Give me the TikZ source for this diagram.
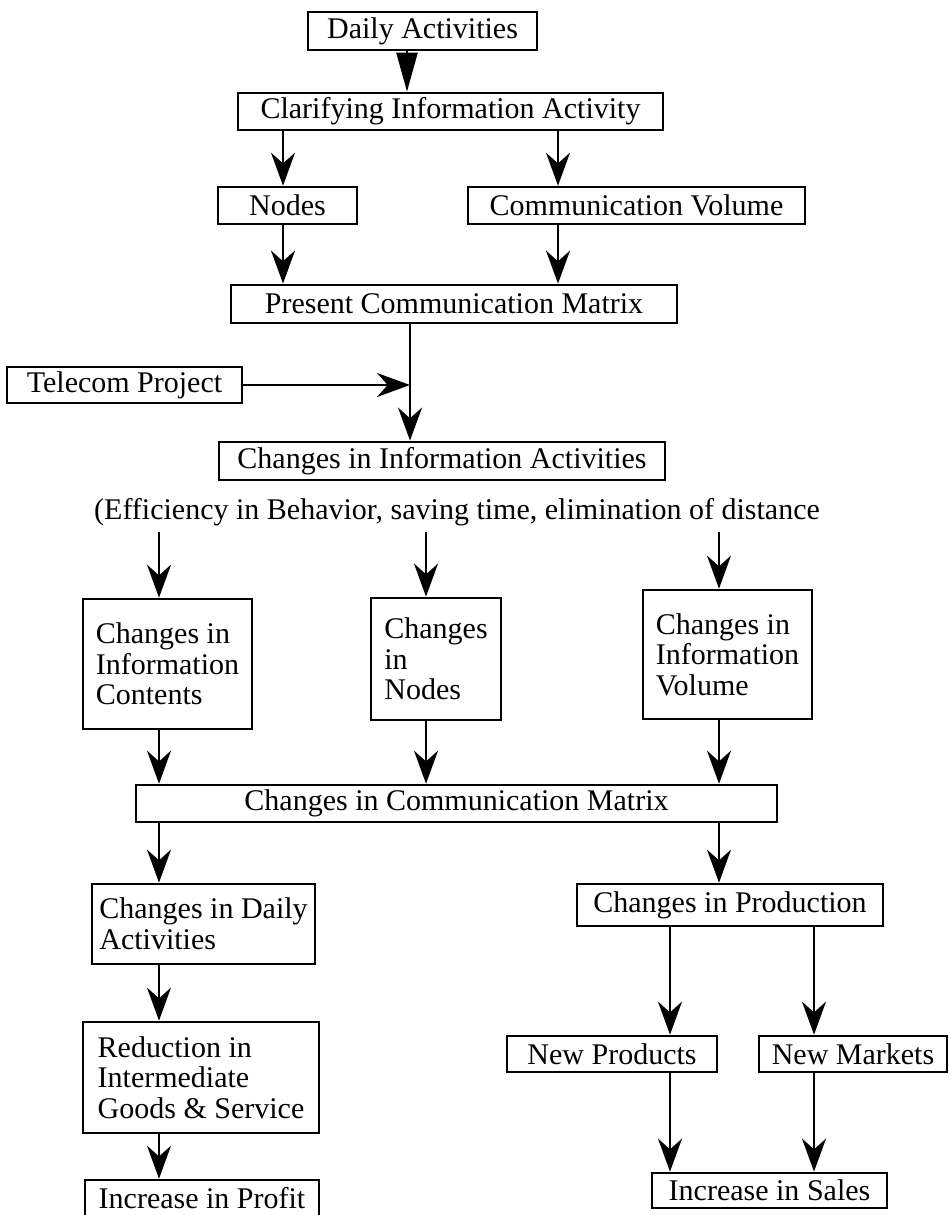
\documentclass[tikz,border=0pt]{standalone}
\usepackage{fontspec}
\setmainfont{Liberation Serif}
\usetikzlibrary{arrows.meta}
\begin{document}
\begin{tikzpicture}[x=0.3333pt, y=-0.3333pt,
	box/.style={draw, line width=0.9pt, inner sep=0pt, font=\fontsize{10}{10.2}\selectfont},
	tbox/.style={box, align=left},
	arr/.style={line width=0.8pt, -{Stealth[length=11pt,width=8pt]}}]
	\useasboundingbox (0,0) rectangle (948,1215);
	% columns of the arrows
	\coordinate (cA) at (407,0);
	\coordinate (cB) at (283,0);
	\coordinate (cC) at (558,0);
	\coordinate (cD) at (410,0);
	\coordinate (c1) at (159,0);
	\coordinate (c2) at (426,0);
	\coordinate (c3) at (719,0);
	\coordinate (c4) at (670,0);
	\coordinate (c5) at (814,0);
	% top part
	\node[box, minimum width=76.3pt, minimum height=12.7pt] (daily) at (422.5,31) {Daily Activities};
	\node[box, minimum width=141.7pt, minimum height=12.3pt] (clarify) at (450.5,111.5) {Clarifying Information Activity};
	\node[box, minimum width=46.3pt, minimum height=12.3pt] (nodes) at (287.5,205.5) {Nodes};
	\node[box, minimum width=112.3pt, minimum height=12.3pt] (volume) at (636.5,205.5) {Communication Volume};
	\node[box, minimum width=148.7pt, minimum height=12.7pt] (present) at (454,304) {Present Communication Matrix};
	\node[box, minimum width=78.3pt, minimum height=12pt] (telecom) at (124.5,385) {Telecom Project};
	\node[box, minimum width=148.7pt, minimum height=12.7pt] (infoact) at (442,461) {Changes in Information Activities};
	\node[font=\fontsize{10}{10.2}\selectfont, inner xsep=0pt, inner ysep=2pt] (effic) at (457,512) {(Efficiency in Behavior, saving time, elimination of distance};
	% three changes
	\node[tbox, minimum width=56.3pt, minimum height=43.3pt] (chcont) at (167.5,664) {Changes in\\Information\\Contents};
	\node[tbox, minimum width=43.3pt, minimum height=40.7pt] (chnodes) at (436,659) {Changes\\in\\Nodes};
	\node[tbox, minimum width=56.3pt, minimum height=43pt] (chvol) at (727.5,654.5) {Changes in\\Information\\Volume};
	\node[box, minimum width=213.7pt, minimum height=12.3pt] (commat) at (456.5,803.5) {Changes in Communication Matrix};
	% left branch
	\node[tbox, minimum width=74.3pt, minimum height=26.7pt] (chdaily) at (203.5,924) {Changes in Daily\\Activities};
	\node[tbox, minimum width=78.7pt, minimum height=37pt] (reduce) at (201,1077.5) {Reduction in\\Intermediate\\Goods \& Service};
	\node[box, minimum width=78pt, minimum height=12.3pt] (profit) at (202,1198.5) {Increase in Profit};
	% right branch
	\node[box, minimum width=102pt, minimum height=14pt] (chprod) at (730,905) {Changes in Production};
	\node[box, minimum width=70pt, minimum height=12pt] (newprod) at (612,1054) {New Products};
	\node[box, minimum width=62.7pt, minimum height=12pt] (newmkt) at (853,1054) {New Markets};
	\node[box, minimum width=78.3pt, minimum height=11.7pt] (sales) at (769.5,1190.5) {Increase in Sales};
	% arrows
	\draw[line width=0.8pt, -{Triangle[length=13pt,width=7pt]}] (daily.south -| cA) -- (clarify.north -| cA);
	\draw[arr] (clarify.south -| cB) -- (nodes.north -| cB);
	\draw[arr] (clarify.south -| cC) -- (volume.north -| cC);
	\draw[arr] (nodes.south -| cB) -- (present.north -| cB);
	\draw[arr] (volume.south -| cC) -- (present.north -| cC);
	\draw[arr] (present.south -| cD) -- (infoact.north -| cD);
	\draw[arr] (telecom.east) -- (telecom.east -| cD);
	\draw[arr] (effic.south -| c1) -- (chcont.north -| c1);
	\draw[arr] (effic.south -| c2) -- (chnodes.north -| c2);
	\draw[arr] (effic.south -| c3) -- (chvol.north -| c3);
	\draw[arr] (chcont.south -| c1) -- (commat.north -| c1);
	\draw[arr] (chnodes.south -| c2) -- (commat.north -| c2);
	\draw[arr] (chvol.south -| c3) -- (commat.north -| c3);
	\draw[arr] (commat.south -| c1) -- (chdaily.north -| c1);
	\draw[arr] (commat.south -| c3) -- (chprod.north -| c3);
	\draw[arr] (chdaily.south -| c1) -- (reduce.north -| c1);
	\draw[arr] (reduce.south -| c1) -- (profit.north -| c1);
	\draw[arr] (chprod.south -| c4) -- (newprod.north -| c4);
	\draw[arr] (chprod.south -| c5) -- (newmkt.north -| c5);
	\draw[arr] (newprod.south -| c4) -- (sales.north -| c4);
	\draw[arr] (newmkt.south -| c5) -- (sales.north -| c5);
\end{tikzpicture}
\end{document}
